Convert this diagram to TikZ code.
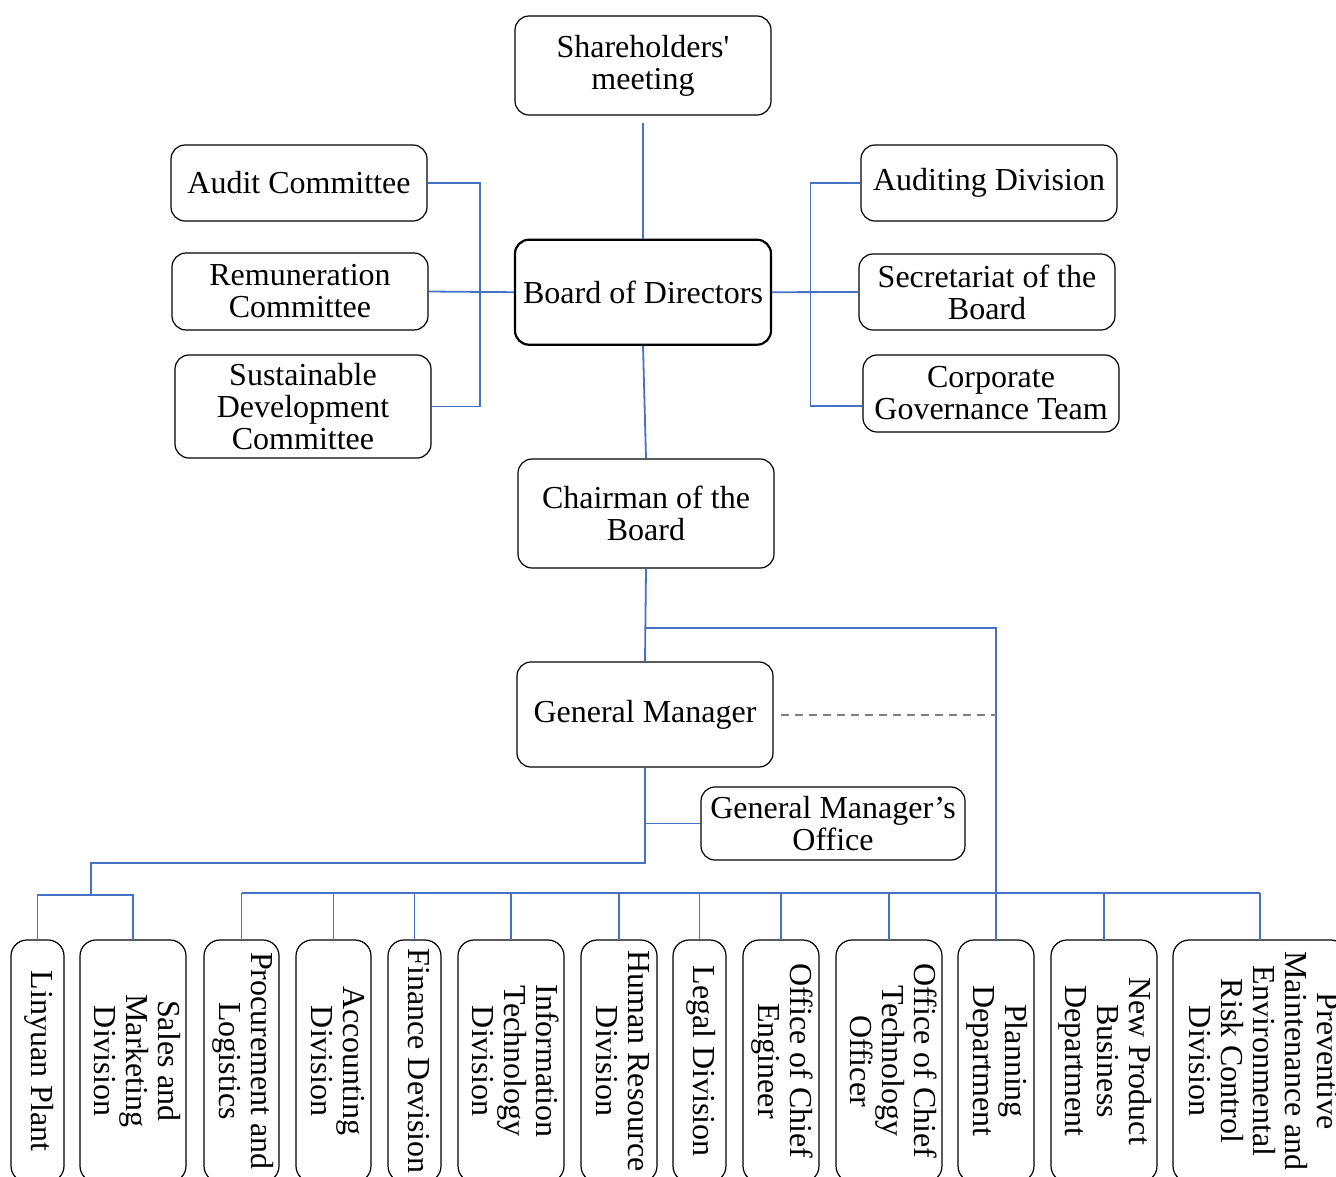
\documentclass[tikz,border=0pt]{standalone}
\usepackage{fontspec}
\setmainfont{Liberation Serif}
\usepackage{graphicx}
\usetikzlibrary{positioning}
\definecolor{lblue}{RGB}{68,114,196}
\definecolor{lgray}{RGB}{128,128,128}
\newcommand{\vlabel}[1]{\rotatebox{-90}{\begin{tabular}{@{}c@{}}#1\end{tabular}}}

\begin{document}
\begin{tikzpicture}[x=1pt,y=-1pt,
  font=\fontsize{32}{32}\selectfont,
  box/.style={draw,rounded corners=14pt,line width=1.2pt,align=center,minimum width=256pt,inner sep=2pt},
  bbox/.style={box,line width=2.2pt},
  vbox/.style={draw,rounded corners=16pt,line width=1.2pt,minimum height=242pt,inner sep=0pt,outer sep=0pt},
  link/.style={draw=lblue,line width=1.8pt},
  dashlink/.style={draw=lgray,line width=2pt,dash pattern=on 8pt off 6pt},
  ]
  \useasboundingbox (0,0) rectangle (1336,1176);
  % governance
  \node[box,minimum height=99pt] (sh) at (643,65.5) {Shareholders\textquotesingle\\meeting};
  \node[bbox,minimum height=105pt,below=123pt of sh] (bd) {Board of Directors};
  \node[box,minimum height=76pt] (audc) at (299,183) {Audit Committee};
  \node[box,minimum height=77pt] (remc) at (300,291.5) {Remuneration\\Committee};
  \node[box,minimum height=103pt] (susc) at (303,406.5) {Sustainable\\Development\\Committee};
  \node[box,minimum height=76pt] (auddv) at (989,183) {Auditing Division};
  \node[box,minimum height=76pt] (secb) at (987,292) {Secretariat of the\\Board};
  \node[box,minimum height=77pt] (cgt) at (991,393.5) {Corporate\\Governance Team};
  \node[box,minimum height=109pt] (ch) at (646,513.5) {Chairman of the\\Board};
  \node[box,minimum height=105pt] (gm) at (645,714.5) {General Manager};
  \node[box,minimum width=264pt,minimum height=73pt] (gmo) at (833,823.5) {General Manager’s\\Office};
  % departments
  \node[vbox,minimum width=53pt] (lyp) at (37.5,1061) {\vlabel{Linyuan Plant}};
  \node[vbox,minimum width=106pt,right=16pt of lyp] (smd) {\vlabel{Sales and\\Marketing\\Division}};
  \node[vbox,minimum width=75pt,right=18pt of smd] (pld) {\vlabel{Procurement and\\Logistics}};
  \node[vbox,minimum width=75pt,right=17pt of pld] (acd) {\vlabel{Accounting\\Division}};
  \node[vbox,minimum width=53pt,right=17pt of acd] (fid) {\vlabel{Finance Devision}};
  \node[vbox,minimum width=106pt,right=17pt of fid] (itd) {\vlabel{Information\\Technology\\Division}};
  \node[vbox,minimum width=76pt,right=17pt of itd] (hrd) {\vlabel{Human Resource\\Division}};
  \node[vbox,minimum width=53pt,right=16pt of hrd] (lgd) {\vlabel{Legal Division}};
  \node[vbox,minimum width=76pt,right=17pt of lgd] (oce) {\vlabel{Office of Chief\\Engineer}};
  \node[vbox,minimum width=106pt,right=17pt of oce] (octo) {\vlabel{Office of Chief\\Technology\\Officer}};
  \node[vbox,minimum width=76pt,right=16pt of octo] (pnd) {\vlabel{Planning\\Department}};
  \node[vbox,minimum width=106pt,right=17pt of pnd] (npd) {\vlabel{New Product\\Business\\Department}};
  \node[vbox,minimum width=174pt,right=16pt of npd] (pmd) {\vlabel{Preventive\\Maintenance and\\Environmental\\Risk Control\\Division}};
  % connectors
  \coordinate (rj) at (996,628);
  \coordinate (bj) at (996,893);
  \coordinate (gl) at (91,863);
  \coordinate (lb) at (91,895);
  \draw[link,shorten <=7pt] (sh.south) -- (bd.north);
  \draw[link] (bd.south) -- (ch.north);
  \draw[link] (remc.east) -- (bd.west);
  \draw[link] (audc.east) -- ++(52,0) |- (susc.east);
  \draw[link] (bd.east) -- (secb.west);
  \draw[link] (auddv.west) -- ++(-50,0) |- ([yshift=-12.5pt]cgt.west);
  \draw[link] (ch.south) -- (gm.north);
  \draw[link] (ch.south |- rj) -- (rj) -- (bj);
  \draw[dashlink] ([xshift=7pt]gm.east) -- (gm.east -| rj);
  \draw[link] (gm.south) |- (gl) -- (lb);
  \draw[link] (gm.south |- gmo.west) -- (gmo.west);
  \draw[link] (lyp.north) |- (lb) -| (smd.north);
  \draw[link] (pld.north |- bj) -- (pmd.north |- bj);
  \foreach \d in {pld,acd,fid,itd,hrd,lgd,oce,octo,pnd,npd,pmd}
    \draw[link] (\d.north |- bj) -- (\d.north);
\end{tikzpicture}
\end{document}
